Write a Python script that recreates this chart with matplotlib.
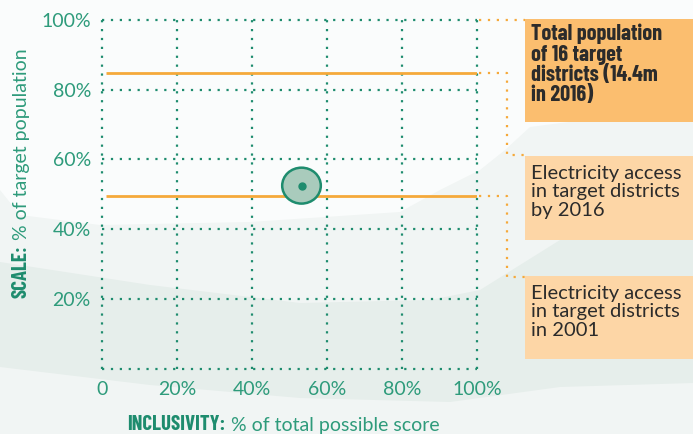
import matplotlib.pyplot as plt
from matplotlib.patches import Rectangle, Polygon, Circle

# data
ticks = [0, 20, 40, 60, 80, 100]
xtick_labels = ['0', '20%', '40%', '60%', '80%', '100%']
ytick_labels = ['', '20%', '40%', '60%', '80%', '100%']
total_pop = 84.9        # % line: total population of 16 target districts
access_2001 = 49.6      # % electricity access in 2001
inclusivity = 53.2      # x of the bubble
scale = 52.5            # y of the bubble
box_texts = ['Total population\nof 16 target\ndistricts (14.4m\nin 2016)',
             'Electricity access\nin target districts\nby 2016',
             'Electricity access\nin target districts\nin 2001']

green = '#1E8C6E'
label_green = '#2E9B7B'
orange = '#F5A93A'
bold_font = ['Barlow Condensed', 'DejaVu Sans']
text_font = ['Lato', 'DejaVu Sans']
W, H = 693, 434

fig = plt.figure(figsize=(W / 100, H / 100), dpi=100)
fig.patch.set_facecolor('#FAFCFC')

def px(x, y):
    return (x / W, 1 - y / H)

# faint background shapes
shape1 = [(0, 190), (20, 215), (100, 225), (250, 222), (400, 212), (440, 190), (480, 170),
          (505, 150), (530, 127), (600, 118), (693, 115), (693, 434), (0, 434)]
shape2 = [(0, 262), (150, 285), (300, 303), (430, 300), (480, 290), (560, 240), (693, 215),
          (693, 383), (560, 387), (450, 402), (300, 398), (150, 385), (0, 367)]
fig.patches.append(Polygon([px(*p) for p in shape1], closed=True, transform=fig.transFigure,
                           facecolor='#F1F5F4', edgecolor='none', zorder=-10))
fig.patches.append(Polygon([px(*p) for p in shape2], closed=True, transform=fig.transFigure,
                           facecolor='#E6EEEB', edgecolor='none', zorder=-9))

ax = fig.add_axes([102 / W, (H - 368.7) / H, 375 / W, 348.7 / H])
ax.patch.set_alpha(0)
ax.set_xlim(0, 100)
ax.set_ylim(0, 100)
for s in ax.spines.values():
    s.set_visible(False)

for t in ticks:
    ax.axvline(t, color=green, ls=(0, (1, 3)), lw=1.6, clip_on=False)
    ax.axhline(t, color=green, ls=(0, (1, 3)), lw=1.6, clip_on=False)

ax.set_xticks(ticks, xtick_labels)
ax.set_yticks(ticks, ytick_labels)
ax.tick_params(length=0, labelsize=14, colors=label_green)
ax.tick_params(axis='x', pad=9)
ax.tick_params(axis='y', pad=8)
for lab in ax.get_xticklabels() + ax.get_yticklabels():
    lab.set_family(text_font)

ax.hlines([total_pop, access_2001], 1, 100, color=orange, lw=2, zorder=3)

ax.add_patch(Circle((inclusivity, scale), 5.15, facecolor='#A9CBBC',
                    edgecolor=green, lw=1.8, zorder=4))
ax.plot(inclusivity, scale, 'o', color=green, ms=5, zorder=5)

# connectors from lines to boxes
dot = dict(color=orange, ls=(0, (1, 3)), lw=1.6, clip_on=False)
ax.plot([100.5, 112.8], [100, 100], **dot)
ax.plot([100.5, 108, 108, 112.8], [total_pop, total_pop, 61.3, 61.3], **dot)
ax.plot([100.5, 108, 108, 112.8], [access_2001, access_2001, 26.3, 26.3], **dot)

# boxes
boxes = [(19, 122, '#FBBE6F', True), (156, 240, '#FDD6A6', False), (276, 359, '#FDD6A6', False)]
for (top, bot, col, is_bold), txt in zip(boxes, box_texts):
    fig.patches.append(Rectangle(px(525, bot), 168 / W, (bot - top) / H, transform=fig.transFigure,
                                 facecolor=col, edgecolor='none', zorder=1))
    if is_bold:
        fig.text(*px(531, top + 5), txt, ha='left', va='top', fontsize=16, weight='bold',
                 family=bold_font, color='#2B2B2B', linespacing=1.02, zorder=2)
    else:
        fig.text(*px(531, top + 9), txt, ha='left', va='top', fontsize=14.5,
                 family=text_font, color='#2B2B2B', linespacing=1.1, zorder=2)

# axis labels, bold part + normal part placed right after it
r = fig.canvas.get_renderer()
xb = fig.text(*px(127, 425), 'INCLUSIVITY:', ha='left', va='center', fontsize=15, weight='bold',
              family=bold_font, color=green)
ext = xb.get_window_extent(r)
fig.text(ext.x1 / W + 6 / W, px(0, 425)[1], '% of total possible score', ha='left', va='center',
         fontsize=14, family=text_font, color=label_green)

yb = fig.text(*px(21, 298), 'SCALE:', ha='left', va='center', rotation=90, rotation_mode='anchor',
              fontsize=15, weight='bold', family=bold_font, color=green)
ext = yb.get_window_extent(r)
fig.text(px(21, 0)[0], ext.y1 / H + 5 / H, '% of target population', ha='left', va='center',
         rotation=90, rotation_mode='anchor', fontsize=14, family=text_font, color=label_green)

fig.savefig('out.png', dpi=100, facecolor=fig.get_facecolor())
